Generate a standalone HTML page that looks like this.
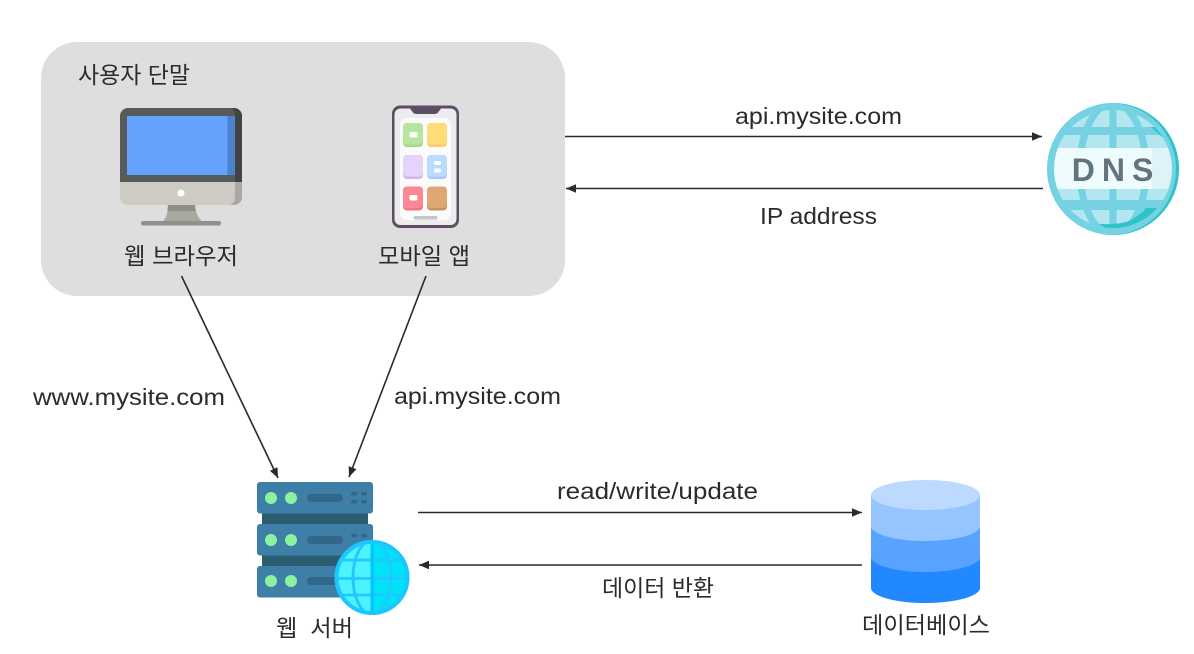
<!DOCTYPE html>
<html><head><meta charset="utf-8"><style>
html,body{margin:0;padding:0;background:#fff}
svg{display:block}
text{font-family:"Liberation Sans","Noto Sans CJK KR",sans-serif;font-size:23.500px;fill:#2b2b2b;text-anchor:middle}
.k{font-size:23px}
</style></head><body>
<svg width="1194" height="654" viewBox="0 0 1194 654" xmlns="http://www.w3.org/2000/svg">
<defs>
<marker id="a" markerWidth="11" markerHeight="10" refX="10" refY="5" orient="auto" markerUnits="userSpaceOnUse"><path d="M0 .8L10 5L0 9.2z" fill="#2a2a2a"/></marker>
<clipPath id="dc"><circle cx="1113" cy="169" r="66"/></clipPath>
<clipPath id="gc"><circle cx="372" cy="577.500" r="37.500"/></clipPath>
</defs>
<rect width="1194" height="654" fill="#fff"/>
<rect x="41" y="42" width="524" height="254" rx="36" fill="#dedede"/>
<text class="k" x="134" y="83" textLength="112" lengthAdjust="spacingAndGlyphs">사용자 단말</text>

<!-- monitor -->
<path d="M168 205h27q1 12 8 17h-41q6-5 6-17z" fill="#a9a9a2"/>
<path d="M168 205h27l.5 6h-28z" fill="#8f908a"/>
<rect x="141" y="221" width="80" height="4.500" rx="2.200" fill="#8f908a"/>
<path d="M120 182h122v15a8 8 0 0 1-8 8H128a8 8 0 0 1-8-8z" fill="#cdcbc4"/>
<path d="M235 182h7v15a8 8 0 0 1-8 8h-4q5-2 5-8z" fill="#a9a8a1"/>
<path d="M128 108h106a8 8 0 0 1 8 8v66H120v-66a8 8 0 0 1 8-8z" fill="#575a59"/>
<path d="M232 108h2a8 8 0 0 1 8 8v66h-7v-66q0-5-3-8z" fill="#414443"/>
<rect x="127" y="116" width="108" height="59" fill="#64a3fd"/>
<rect x="227.500" y="116" width="7.500" height="59" fill="#4d82cc"/>
<circle cx="181" cy="193" r="3.500" fill="#fff"/>

<!-- phone -->
<rect x="392" y="105.500" width="67" height="122.500" rx="8" fill="#5d4e63"/>
<rect x="394.500" y="108.500" width="62" height="116.500" rx="6" fill="#ecebee"/>
<path d="M410 108.500h31l-3 4q-1 1.500-4 1.500h-17q-3 0-4-1.500z" fill="#5d4e63"/>
<rect x="400" y="118" width="51" height="102" rx="7" fill="#fbfbfc"/>
<rect x="403" y="123" width="20" height="24" rx="4" fill="#a5d98e"/><rect x="403" y="123" width="20" height="21.500" rx="4" fill="#b5e59e"/>
<rect x="427" y="123" width="20" height="24" rx="4" fill="#f8cd6a"/><rect x="427" y="123" width="20" height="21.500" rx="4" fill="#ffdc78"/>
<rect x="403" y="155" width="20" height="24" rx="4" fill="#cfb9ec"/><rect x="403" y="155" width="20" height="21.500" rx="4" fill="#e6d3fb"/>
<rect x="427" y="155" width="20" height="24" rx="4" fill="#a5cbf8"/><rect x="427" y="155" width="20" height="21.500" rx="4" fill="#bcdcff"/>
<rect x="403" y="186.500" width="20" height="24" rx="4" fill="#ef7785"/><rect x="403" y="186.500" width="20" height="21.500" rx="4" fill="#fd8792"/>
<rect x="427" y="186.500" width="20" height="24" rx="4" fill="#c9945f"/><rect x="427" y="186.500" width="20" height="21.500" rx="4" fill="#dea873"/>
<rect x="409.500" y="132" width="8" height="5.500" rx="1.500" fill="#fff"/>
<rect x="409.500" y="195" width="8" height="5.500" rx="1.500" fill="#fff"/>
<rect x="434" y="161" width="7" height="4" rx="1.500" fill="#fff"/>
<rect x="434" y="168.500" width="7" height="4" rx="1.500" fill="#fff"/>
<rect x="413.500" y="216" width="24" height="3.500" rx="1.700" fill="#c6c5c8"/>

<text class="k" x="181" y="264" textLength="114" lengthAdjust="spacingAndGlyphs">웹 브라우저</text>
<text class="k" x="424" y="264" textLength="92" lengthAdjust="spacingAndGlyphs">모바일 앱</text>

<!-- DNS connectors -->
<line x1="565" y1="136.500" x2="1042" y2="136.500" stroke="#2a2a2a" stroke-width="1.600" marker-end="url(#a)"/>
<line x1="1043" y1="188.500" x2="566" y2="188.500" stroke="#2a2a2a" stroke-width="1.600" marker-end="url(#a)"/>
<text x="818.500" y="124" textLength="167" lengthAdjust="spacingAndGlyphs">api.mysite.com</text>
<text x="818.500" y="224" textLength="117" lengthAdjust="spacingAndGlyphs">IP address</text>

<!-- DNS globe -->
<g clip-path="url(#dc)">
<rect x="1040" y="100" width="145" height="140" fill="#b4e6ef"/>
<g fill="none" stroke="#74d2e2" stroke-width="7">
<ellipse cx="1113" cy="169" rx="33" ry="66"/>
<line x1="1113" y1="100" x2="1113" y2="240"/>
</g>
<rect x="1040" y="127" width="145" height="8" fill="#74d2e2"/>
<rect x="1040" y="200" width="145" height="10" fill="#74d2e2"/>
<rect x="1040" y="148" width="145" height="41" fill="#eefcfe"/>
<rect x="1152" y="148" width="30" height="41" fill="#ddf3f8"/>
<path d="M1099 224q22 1 32-4q10-6 15-12h13q-10 14-24 22q-20 6-36-6z" fill="#2ec4c6"/>
<path d="M1151 127l11 10h6l-8-10z" fill="#2ec4c6"/>
</g>
<circle cx="1113" cy="169" r="62.500" fill="none" stroke="#74d2e2" stroke-width="7"/>
<path d="M1113 103a66 66 0 0 1 0 132a66 66 0 0 0 63-66a66 66 0 0 0-63-66z" fill="#2ec4c6"/>
<text x="1116" y="181" style="font-size:32px;font-weight:700;letter-spacing:7px;fill:#61757f">DNS</text>

<!-- client to server -->
<line x1="181.500" y1="276" x2="278" y2="478" stroke="#2a2a2a" stroke-width="1.600" marker-end="url(#a)"/>
<line x1="426" y1="276" x2="349" y2="477" stroke="#2a2a2a" stroke-width="1.600" marker-end="url(#a)"/>
<text x="129" y="405" textLength="192" lengthAdjust="spacingAndGlyphs">www.mysite.com</text>
<text x="477.500" y="404" textLength="167" lengthAdjust="spacingAndGlyphs">api.mysite.com</text>

<!-- server -->
<rect x="262" y="513" width="106" height="12" fill="#295d6f"/>
<rect x="262" y="555" width="106" height="12" fill="#295d6f"/>
<g fill="#3d7fa6">
<rect x="257" y="482" width="116" height="31.500" rx="3"/>
<rect x="257" y="524" width="116" height="31.500" rx="3"/>
<rect x="257" y="566" width="116" height="31.500" rx="3"/>
</g>
<g fill="#8df29f">
<circle cx="271" cy="498" r="6"/><circle cx="291" cy="498" r="6"/>
<circle cx="271" cy="540" r="6"/><circle cx="291" cy="540" r="6"/>
<circle cx="271" cy="581" r="6"/><circle cx="291" cy="581" r="6"/>
</g>
<g fill="#33678a">
<rect x="307" y="494" width="36" height="8" rx="4"/>
<rect x="307" y="536" width="36" height="8" rx="4"/>
<rect x="307" y="577" width="36" height="8" rx="4"/>
<rect x="351" y="492" width="6" height="3.500" rx="1.700"/><rect x="361" y="492" width="6" height="3.500" rx="1.700"/>
<rect x="351" y="500" width="6" height="3.500" rx="1.700"/><rect x="361" y="500" width="6" height="3.500" rx="1.700"/>
<rect x="351" y="534" width="6" height="3.500" rx="1.700"/><rect x="361" y="534" width="6" height="3.500" rx="1.700"/>
</g>

<!-- web globe -->
<g clip-path="url(#gc)">
<rect x="334" y="540" width="38" height="75" fill="#4df2ff"/>
<rect x="372" y="540" width="38" height="75" fill="#00e2f7"/>
<g fill="none" stroke="#1fc8ff" stroke-width="2.800">
<ellipse cx="372" cy="577.500" rx="19" ry="37"/>
<line x1="334" y1="560" x2="410" y2="560"/>
<line x1="334" y1="578.500" x2="410" y2="578.500"/>
<line x1="334" y1="595" x2="410" y2="595"/>
</g>
<rect x="370.500" y="540" width="3" height="75" fill="#00c6fb"/>
</g>
<circle cx="372" cy="577.500" r="35.500" fill="none" stroke="#1ac8ff" stroke-width="4"/>
<text class="k" x="314.500" y="636" textLength="77" lengthAdjust="spacingAndGlyphs" xml:space="preserve">웹  서버</text>

<!-- DB connectors -->
<line x1="418" y1="512.500" x2="862" y2="512.500" stroke="#2a2a2a" stroke-width="1.600" marker-end="url(#a)"/>
<line x1="862" y1="565" x2="419" y2="565" stroke="#2a2a2a" stroke-width="1.600" marker-end="url(#a)"/>
<text x="657.500" y="499" textLength="201" lengthAdjust="spacingAndGlyphs">read/write/update</text>
<text class="k" x="658" y="596" textLength="112" lengthAdjust="spacingAndGlyphs">데이터 반환</text>

<!-- DB -->
<path d="M871 557v31c0 8 24 15 54.500 15s54.500-7 54.500-15v-31z" fill="#2288ff"/>
<path d="M871 526v31c0 8 24 15 54.500 15s54.500-7 54.500-15v-31z" fill="#58a3ff"/>
<path d="M871 495v31c0 8 24 15 54.500 15s54.500-7 54.500-15v-31z" fill="#96c4ff"/>
<ellipse cx="925.500" cy="495" rx="54.500" ry="15" fill="#bcd9ff"/>
<text class="k" x="926" y="633" textLength="128" lengthAdjust="spacingAndGlyphs">데이터베이스</text>
</svg>
</body></html>
